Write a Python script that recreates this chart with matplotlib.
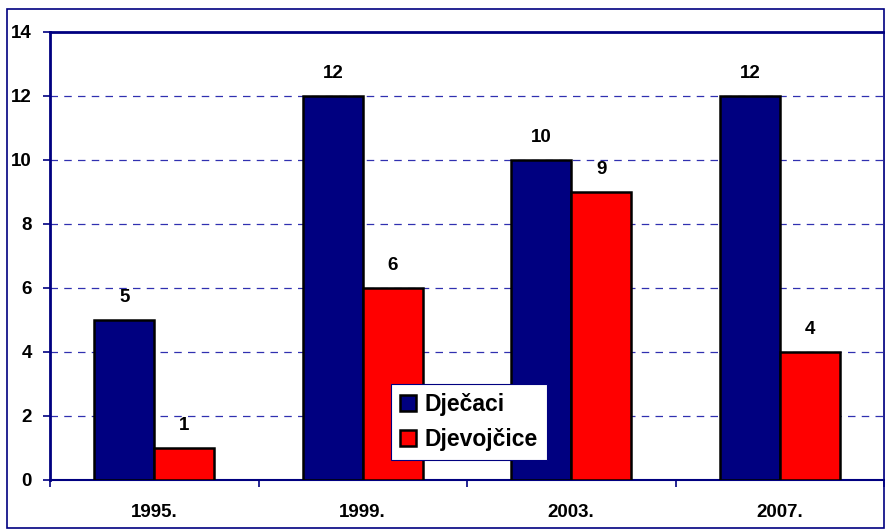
import matplotlib
matplotlib.use("Agg")
import matplotlib.pyplot as plt
from matplotlib.patches import Rectangle
import numpy as np

categories = ["1995.", "1999.", "2003.", "2007."]
djecaci = [5, 12, 10, 12]
djevojcice = [1, 6, 9, 4]
series_names = ["Dječaci", "Djevojčice"]
yticks = [0, 2, 4, 6, 8, 10, 12, 14]

plt.rcParams['font.family'] = ['Liberation Sans', 'DejaVu Sans']
W, H = 885, 529
fig = plt.figure(figsize=(W/100, H/100), dpi=100)
fig.patch.set_facecolor('white')

# outer border
fig.add_artist(Rectangle((7/W, 1/H), (884-7)/W, (H-9-1)/H, transform=fig.transFigure,
                         fill=False, edgecolor='#000080', lw=1.2))

ax = fig.add_axes([50/W, (H-480)/H, (884-50)/W, (480-32)/H])
x = np.arange(len(categories))
bw = 0.287
b1 = ax.bar(x - bw/2, djecaci, bw, color='#000080', edgecolor='black', lw=1.8, label=series_names[0], zorder=3)
b2 = ax.bar(x + bw/2, djevojcice, bw, color='#FF0000', edgecolor='black', lw=1.8, label=series_names[1], zorder=3)

for bars, vals in ((b1, djecaci), (b2, djevojcice)):
    for r, v in zip(bars, vals):
        ax.annotate(str(v), (r.get_x() + r.get_width()/2, v), xytext=(0, 13),
                    textcoords='offset points', ha='center', va='baseline',
                    fontsize=13.5, fontweight='bold')

ax.set_xlim(-0.5, len(categories) - 0.5)
ax.set_ylim(0, 14)
ax.set_yticks(yticks)
ax.set_yticklabels([str(t) for t in yticks], fontsize=13.5, fontweight='bold')
ax.set_xticks(x)
ax.set_xticklabels(categories, fontsize=13.5, fontweight='bold')
ax.tick_params(axis='x', length=0, pad=17)
ax.set_xticks(np.arange(len(categories) + 1) - 0.5, minor=True)
ax.tick_params(axis='x', which='minor', length=5, width=1.2, color='#000080', direction='out')
ax.tick_params(axis='y', length=5, width=1.2, color='#000080', direction='out', pad=8)

for y in yticks[1:-1]:
    ax.axhline(y, color='#3030b0', lw=0.9, ls=(0, (6, 5)), zorder=1)

for s in ['left', 'top']:
    ax.spines[s].set_color('#000080')
    ax.spines[s].set_linewidth(2)
ax.spines['bottom'].set_color('#000080')
ax.spines['bottom'].set_linewidth(1.5)
ax.spines['right'].set_color('#c8c8e0')
ax.spines['right'].set_linewidth(1)

leg = ax.legend(loc='upper left', bbox_to_anchor=((391-50)/(884-50), (480-384)/(480-32)),
                prop={'weight': 'bold', 'size': 16.5}, frameon=True, fancybox=False,
                framealpha=1.0, facecolor='white',
                handlelength=0.7, handleheight=0.7, handletextpad=0.35, borderpad=0.4,
                labelspacing=0.5, borderaxespad=0)
leg.get_frame().set_edgecolor('#000080')
leg.get_frame().set_linewidth(0.8)
leg.set_zorder(5)

fig.savefig('out.png', dpi=100)
